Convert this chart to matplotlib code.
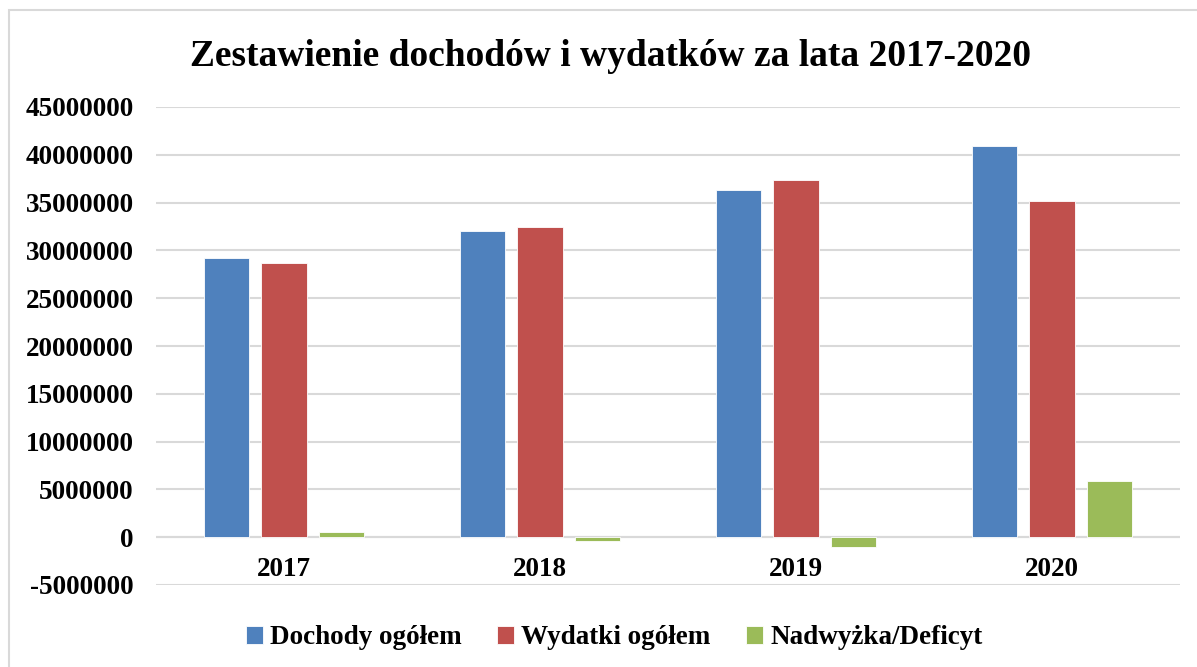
import matplotlib.pyplot as plt
import numpy as np
from matplotlib.patches import Rectangle

lata = ['2017', '2018', '2019', '2020']
dochody = [29230000, 32010000, 36330000, 40970000]
wydatki = [28720000, 32430000, 37330000, 35140000]
saldo = [510000, -420000, -1000000, 5830000]

serie = ['Dochody ogółem', 'Wydatki ogółem', 'Nadwyżka/Deficyt']
kolory = ['#4f81bd', '#c0504d', '#9bbb59']

plt.rcParams['font.family'] = ['Liberation Serif', 'DejaVu Serif']
plt.rcParams['font.weight'] = 'bold'

fig = plt.figure(figsize=(11.97, 6.67), dpi=100)
ax = fig.add_axes([156 / 1197, 1 - 585 / 667, (1180 - 156) / 1197, (585 - 107) / 667])

# ramka wykresu
fig.patches.append(Rectangle((9 / 1197, -0.1), 1.2, 1 - 10 / 667 + 0.1,
                             transform=fig.transFigure, fill=False,
                             edgecolor='#d9d9d9', lw=1.5))

x = np.arange(len(lata))
w = 0.176
off = 0.223
for k, (vals, c, name) in enumerate(zip([dochody, wydatki, saldo], kolory, serie)):
    ax.bar(x + (k - 1) * off, vals, w, color=c, label=name, zorder=3,
           edgecolor='white', linewidth=0.6)

ax.set_xlim(-0.5, 3.5)
ax.set_ylim(-5000000, 45000000)
ax.set_yticks(np.arange(-5000000, 45000001, 5000000))
ax.set_yticklabels([str(v) for v in np.arange(-5000000, 45000001, 5000000)])
ax.yaxis.grid(True, color='#d9d9d9', lw=1.5, zorder=0)
ax.axhline(0, color='#d9d9d9', lw=1.5, zorder=1)
ax.tick_params(axis='y', length=0, pad=16, labelsize=19.5)
ax.set_xticks([])
for s in ax.spines.values():
    s.set_visible(False)

for i, lab in enumerate(lata):
    ax.annotate(lab, (i, 0), xytext=(0, -32), textcoords='offset pixels',
                ha='center', va='center', fontsize=19.5, fontweight='bold')

fig.text(611 / 1197, 1 - 56 / 667, 'Zestawienie dochodów i wydatków za lata 2017-2020',
         ha='center', va='center', fontsize=27, fontweight='bold')

fig.legend(loc='center', bbox_to_anchor=(614 / 1197, 1 - 638 / 667), ncol=3,
           frameon=False, fontsize=19.5, handlelength=0.65, handleheight=0.65,
           handletextpad=0.25, columnspacing=1.3)

fig.savefig('out.png', dpi=100)
